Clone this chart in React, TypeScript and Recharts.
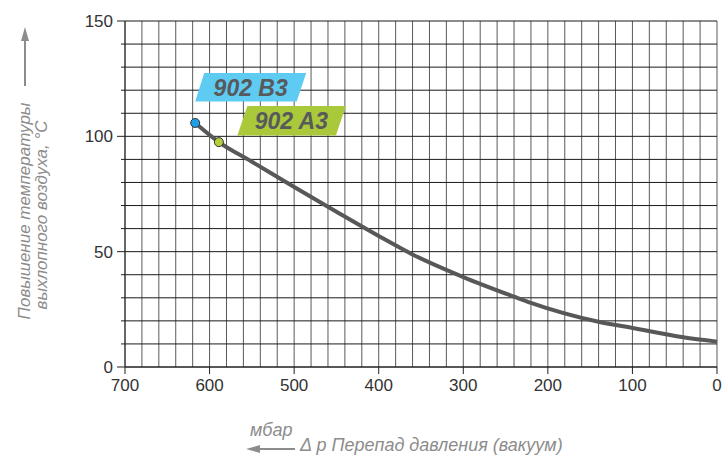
import { LineChart, Line, XAxis, YAxis, CartesianGrid } from "recharts";

// Δp, mbar (vacuum) and exhaust air temperature rise, °C
const pressure = [617, 589, 550, 500, 450, 400, 360, 300, 240, 220, 140, 100, 40, 0];
const tempRise = [105.8, 97.5, 89, 78, 67.3, 56.8, 48.8, 39, 30.5, 27.8, 19.6, 16.9, 12.9, 11];

const models = ["902 B3", "902 A3"];

const xTicks = [
  0, 20, 40, 60, 80, 100, 120, 140, 160, 180, 200, 220, 240, 260, 280, 300, 320, 340,
  360, 380, 400, 420, 440, 460, 480, 500, 520, 540, 560, 580, 600, 620, 640, 660, 680, 700,
];
const yTicks = [0, 10, 20, 30, 40, 50, 60, 70, 80, 90, 100, 110, 120, 130, 140, 150];

const data = pressure.map((p, i) => ({ p, t: tempRise[i] }));

const FONT = "'Liberation Sans', Arial, sans-serif";
const GREY = "#8c8c8c";

// tag shapes, offsets relative to the marker
const tags = [
  {
    fill: "#5ecbf3",
    dot: "#1ea0e6",
    poly: [[9, -50], [111, -50], [101.5, -21.5], [0, -21.5]],
    tx: 55.5,
    ty: -27,
  },
  {
    fill: "#a9c93b",
    dot: "#b3cf3c",
    poly: [[28.5, -36], [127, -36], [117, -6.5], [18.5, -6.5]],
    tx: 72.5,
    ty: -13.5,
  },
];

const renderDot = (props: any) => {
  const { cx, cy, index } = props;
  const tag = tags[index];
  if (!tag) return <g key={`d${index}`} />;
  return (
    <g key={`d${index}`}>
      <polygon
        points={tag.poly.map(([dx, dy]) => `${cx + dx},${cy + dy}`).join(" ")}
        fill={tag.fill}
      />
      <text
        x={cx + tag.tx}
        y={cy + tag.ty}
        textAnchor="middle"
        fontFamily={FONT}
        fontWeight="bold"
        fontStyle="italic"
        fontSize={23}
        fill="#58595b"
      >
        {models[index]}
      </text>
      <circle cx={cx} cy={cy} r={4.5} fill={tag.dot} stroke="#333" strokeWidth={1} />
    </g>
  );
};

const YTick = (props: any) => {
  const { x, y, payload } = props;
  const major = payload.value % 50 === 0;
  return (
    <g>
      <line x1={x - (major ? 8 : 4)} x2={x} y1={y} y2={y} stroke="#222" />
      {major && (
        <text x={x - 12} y={y} dy="0.35em" textAnchor="end" fontFamily={FONT} fontSize={17} fill="#333">
          {payload.value}
        </text>
      )}
    </g>
  );
};

const XTick = (props: any) => {
  const { x, y, payload } = props;
  if (payload.value % 100 !== 0) return <g />;
  return (
    <g>
      <line x1={x} x2={x} y1={y} y2={y + 7} stroke="#222" />
      <text x={x} y={y + 18} dy="0.35em" textAnchor="middle" fontFamily={FONT} fontSize={17} fill="#333">
        {payload.value}
      </text>
    </g>
  );
};

export default function App() {
  return (
    <div style={{ position: "absolute", left: 0, top: 0, width: 725, height: 457, background: "#fff" }}>
      <LineChart width={725} height={457} data={data} margin={{ top: 21, right: 8, bottom: 60, left: 0 }}>
        <CartesianGrid horizontal={false} stroke="#5a5a5a" />
        <CartesianGrid vertical={false} stroke="#1a1a1a" />
        <XAxis
          dataKey="p"
          type="number"
          domain={[0, 700]}
          reversed
          ticks={xTicks}
          interval={0}
          height={30}
          tickSize={0}
          tickMargin={0}
          tick={<XTick />}
          axisLine={{ stroke: "#222" }}
        />
        <YAxis
          type="number"
          domain={[0, 150]}
          ticks={yTicks}
          interval={0}
          width={125}
          tickSize={0}
          tickMargin={0}
          tick={<YTick />}
          axisLine={{ stroke: "#222" }}
        />
        <Line
          type="monotone"
          dataKey="t"
          stroke="#58585a"
          strokeWidth={4}
          dot={renderDot}
          activeDot={false}
          isAnimationActive={false}
        />
      </LineChart>
      <svg
        width={725}
        height={457}
        style={{ position: "absolute", left: 0, top: 0, pointerEvents: "none" }}
      >
        <line x1={25} y1={86} x2={25} y2={38} stroke={GREY} strokeWidth={2} />
        <polygon points="25,27 21,41 29,41" fill={GREY} />
        <g fontFamily={FONT} fontStyle="italic" fill={GREY}>
          <text transform="translate(30,211) rotate(-90)" textAnchor="middle" fontSize={17}>
            Повышение температуры
          </text>
          <text transform="translate(47,215) rotate(-90)" textAnchor="middle" fontSize={17}>
            выхлопного воздуха, °C
          </text>
          <text x={250} y={436} fontSize={18}>мбар</text>
          <text x={300} y={451} fontSize={18}>Δ p Перепад давления (вакуум)</text>
        </g>
        <line x1={258} y1={449} x2={295} y2={449} stroke={GREY} strokeWidth={2} />
        <polygon points="246,449 260,445 260,453" fill={GREY} />
      </svg>
    </div>
  );
}
